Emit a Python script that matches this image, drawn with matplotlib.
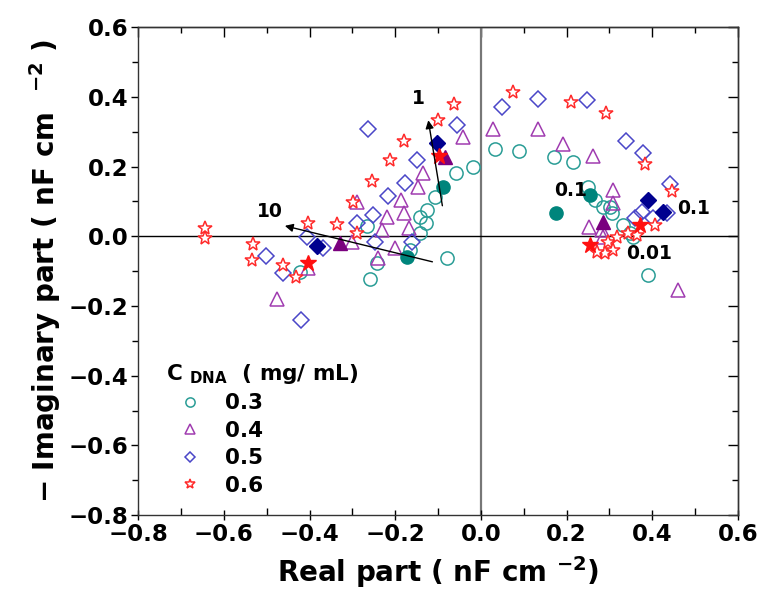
import numpy as np
import matplotlib
matplotlib.use('Agg')
import matplotlib.pyplot as plt
from matplotlib.ticker import MultipleLocator, NullFormatter

plt.rcParams['font.family'] = 'DejaVu Sans'
plt.rcParams['font.weight'] = 'bold'
plt.rcParams['mathtext.default'] = 'regular'

# C_DNA = 0.3 mg/mL (open circles) and filled markers at chosen frequencies
re_03 = [-0.019, -0.058, -0.107, -0.126, -0.142, -0.128, -0.142, -0.166, -0.266, -0.243, -0.259, -0.079, -0.422,
         0.033, 0.089, 0.170, 0.215, 0.250, 0.266, 0.285, 0.301, 0.306, 0.331, 0.348, 0.355, 0.390]
im_03 = [0.198, 0.181, 0.112, 0.077, 0.055, 0.037, 0.011, -0.040, 0.029, -0.077, -0.123, -0.063, -0.103,
         0.250, 0.244, 0.227, 0.212, 0.141, 0.103, 0.083, 0.083, 0.066, 0.032, 0.009, -0.003, -0.112]
re_03f = [-0.089, -0.173, 0.175, 0.254]
im_03f = [0.141, -0.060, 0.066, 0.118]

# C_DNA = 0.4 mg/mL (triangles)
re_04 = [-0.042, -0.135, -0.147, -0.187, -0.180, -0.219, -0.231, -0.168, -0.289, -0.301, -0.240, -0.201, -0.404, -0.476,
         0.028, 0.133, 0.191, 0.261, 0.308, 0.308, 0.252, 0.282, 0.285, 0.460]
im_04 = [0.284, 0.181, 0.141, 0.103, 0.066, 0.055, 0.017, 0.023, 0.098, -0.017, -0.063, -0.034, -0.092, -0.181,
         0.307, 0.307, 0.264, 0.230, 0.132, 0.095, 0.026, 0.017, -0.003, -0.155]
re_04f = [-0.329, -0.084, 0.285]
im_04f = [-0.020, 0.227, 0.040]

# C_DNA = 0.5 mg/mL (diamonds)
re_05 = [-0.264, -0.149, -0.056, -0.177, -0.217, -0.252, -0.289, -0.406, -0.369, -0.502, -0.462, -0.247, -0.161, -0.420,
         0.049, 0.133, 0.247, 0.338, 0.378, 0.441, 0.376, 0.401, 0.359, 0.434]
im_05 = [0.307, 0.218, 0.319, 0.152, 0.115, 0.060, 0.037, -0.003, -0.034, -0.057, -0.106, -0.017, -0.017, -0.241,
         0.370, 0.393, 0.390, 0.273, 0.238, 0.149, 0.069, 0.052, 0.052, 0.066]
re_05f = [-0.383, -0.103, 0.390, 0.425]
im_05f = [-0.029, 0.267, 0.103, 0.069]

# C_DNA = 0.6 mg/mL (stars)
re_06 = [-0.644, -0.644, -0.532, -0.534, -0.462, -0.432, -0.404, -0.336, -0.289, -0.299, -0.254, -0.212, -0.180, -0.100, -0.063,
         0.075, 0.210, 0.292, 0.383, 0.446, 0.406, 0.364, 0.343, 0.317, 0.296, 0.308, 0.289, 0.271]
im_06 = [0.023, -0.006, -0.023, -0.069, -0.083, -0.118, 0.037, 0.034, 0.011, 0.098, 0.158, 0.218, 0.273, 0.333, 0.379,
         0.413, 0.385, 0.353, 0.209, 0.129, 0.032, 0.003, 0.009, -0.003, -0.017, -0.040, -0.049, -0.046]
re_06f = [-0.404, -0.098, 0.254, 0.371]
im_06f = [-0.077, 0.230, -0.026, 0.032]

conc_labels = ['0.3', '0.4', '0.5', '0.6']

fig = plt.figure(figsize=(7.72, 6.06), dpi=100)
ax = fig.add_axes([0.179, 0.150, 0.777, 0.805])

ax.axvline(0, color='#777777', lw=1.6, zorder=1)
ax.axhline(0, color='black', lw=1.0, zorder=1)

ms = 9.5
mew = 1.1
ax.plot(re_03, im_03, 'o', ms=ms, mfc='none', mec='#2a9d96', mew=mew, label=conc_labels[0])
ax.plot(re_04, im_04, '^', ms=ms + 1, mfc='none', mec='#a03cb0', mew=mew, label=conc_labels[1])
ax.plot(re_05, im_05, 'D', ms=ms - 1.5, mfc='none', mec='#4a46c8', mew=mew, label=conc_labels[2])
ax.plot(re_06, im_06, '*', ms=ms + 1, mfc='white', mec='#ff2a2a', mew=mew, label=conc_labels[3])

ax.plot(re_03f, im_03f, 'o', ms=ms, color='#00857c', ls='none')
ax.plot(re_04f, im_04f, '^', ms=ms + 1, color='#7a007f', ls='none')
ax.plot(re_05f, im_05f, 'D', ms=ms - 1.5, color='#00008f', ls='none')
ax.plot(re_06f, im_06f, '*', ms=ms + 2.5, color='#ff1010', ls='none')

# frequency arrows
ax.annotate('', xy=(-0.124, 0.341), xytext=(-0.089, 0.080),
            arrowprops=dict(arrowstyle='-|>', color='black', lw=1.0, mutation_scale=12))
ax.annotate('', xy=(-0.464, 0.032), xytext=(-0.107, -0.075),
            arrowprops=dict(arrowstyle='-|>', color='black', lw=1.0, mutation_scale=12))
ax.text(-0.147, 0.396, '1', fontsize=13.5, fontweight='bold', ha='center', va='center')
ax.text(-0.492, 0.072, '10', fontsize=13.5, fontweight='bold', ha='center', va='center')
ax.text(0.208, 0.132, '0.1', fontsize=13.5, fontweight='bold', ha='center', va='center')
ax.text(0.497, 0.080, '0.1', fontsize=13.5, fontweight='bold', ha='center', va='center')
ax.text(0.392, -0.049, '0.01', fontsize=13.5, fontweight='bold', ha='center', va='center')

ax.set_xlim(-0.8, 0.6)
ax.set_ylim(-0.8, 0.6)
fmt = plt.FuncFormatter(lambda v, p: f'{v:.1f}'.replace('-', '\u2212'))
for axis in (ax.xaxis, ax.yaxis):
    axis.set_major_locator(MultipleLocator(0.2))
    axis.set_minor_locator(MultipleLocator(0.1))
    axis.set_major_formatter(fmt)
ax.tick_params(axis='x', which='major', labelsize=16.5, length=7, width=1.0, direction='inout', pad=2)
ax.tick_params(axis='x', which='minor', length=5, width=1.0, direction='in')
ax.tick_params(axis='y', which='major', labelsize=16.5, length=5, width=1.0, direction='out', pad=2)
ax.tick_params(axis='y', which='minor', length=4, width=1.0, direction='out')

# inward ticks on top and right
top = ax.secondary_xaxis('top')
right = ax.secondary_yaxis('right')
for sec, axis in ((top, top.xaxis), (right, right.yaxis)):
    axis.set_major_locator(MultipleLocator(0.2))
    axis.set_minor_locator(MultipleLocator(0.1))
    axis.set_major_formatter(NullFormatter())
    sec.tick_params(which='major', length=7, width=1.0, direction='in')
    sec.tick_params(which='minor', length=4, width=1.0, direction='in')
    for s in sec.spines.values():
        s.set_linewidth(1.0)
        s.set_color('#333333')

for lab in ax.get_xticklabels() + ax.get_yticklabels():
    lab.set_fontweight('bold')
for s in ax.spines.values():
    s.set_linewidth(1.0)
    s.set_color('#333333')

ax.set_xlabel(r'Real part ( nF cm $^{-2}$)', fontsize=20, fontweight='bold', labelpad=6)
ax.set_ylabel(r'$-$ Imaginary part ( nF cm  $^{-2}$ )', fontsize=20, fontweight='bold', labelpad=4)

leg = ax.legend(loc='upper left', bbox_to_anchor=(0.017, 0.35), frameon=False,
                title=r'C $_{\mathrm{DNA}}$  ( mg/ mL)', title_fontproperties={'size': 15.5, 'weight': 'bold'},
                prop={'size': 15.5, 'weight': 'bold'}, markerscale=0.7, handlelength=2.3,
                handletextpad=0.45, labelspacing=0.35, alignment='left', borderpad=0.3)

fig.savefig('out.png', dpi=100)
